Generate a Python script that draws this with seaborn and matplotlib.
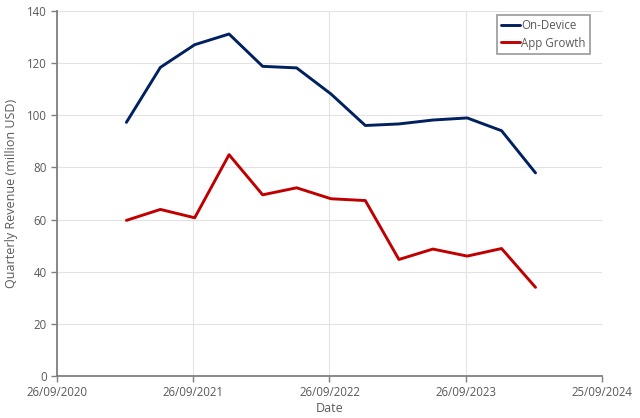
import pandas as pd
import numpy as np
import matplotlib
matplotlib.use('Agg')
import matplotlib.pyplot as plt
import matplotlib.dates as mdates
import seaborn as sns

# quarter end dates
dates = ['2021-03-31', '2021-06-30', '2021-09-30', '2021-12-31', '2022-03-31', '2022-06-30',
         '2022-09-30', '2022-12-31', '2023-03-31', '2023-06-30', '2023-09-30', '2023-12-31',
         '2024-03-31']
on_device = [97.3, 118.4, 127.1, 131.2, 118.8, 118.2, 108.2, 96.1, 96.7, 98.2, 99.0, 94.1, 77.9]
app_growth = [59.7, 63.9, 60.7, 84.9, 69.5, 72.2, 68.0, 67.3, 44.7, 48.7, 46.0, 48.9, 34.0]
tick_dates = ['2020-09-26', '2021-09-26', '2022-09-26', '2023-09-26', '2024-09-25']

# long format for seaborn
df = pd.DataFrame({
    'Date': pd.to_datetime(dates * 2),
    'Revenue': on_device + app_growth,
    'Segment': ['On-Device'] * len(dates) + ['App Growth'] * len(dates),
})

sns.set_style('white')
plt.rcParams['font.family'] = ['Open Sans', 'DejaVu Sans']

fig = plt.figure(figsize=(6.4, 4.18), dpi=100)
ax = fig.add_axes([0.089, 0.1005, 0.8516, 0.873])

sns.lineplot(data=df, x='Date', y='Revenue', hue='Segment',
             palette={'On-Device': '#002060', 'App Growth': '#C00000'},
             linewidth=2.1, ax=ax)

ticks = pd.to_datetime(tick_dates)
ax.set_xlim(ticks[0], ticks[-1])
ax.set_xticks(ticks)
ax.xaxis.set_major_formatter(mdates.DateFormatter('%d/%m/%Y'))
ax.set_ylim(0, 140)
ax.set_yticks(np.arange(0, 141, 20))

grey = '#595959'
ax.grid(True, color='#E3E3E3', linewidth=0.8)
for s in ['top', 'right']:
    ax.spines[s].set_visible(False)
for s in ['left', 'bottom']:
    ax.spines[s].set_color('#7F7F7F')
    ax.spines[s].set_linewidth(1.3)
ax.tick_params(axis='both', which='both', direction='out', length=4, width=1,
               color='#7F7F7F', labelcolor=grey, labelsize=8.3, bottom=True, left=True)

ax.set_xlabel('Date', color=grey, fontsize=9, labelpad=2)
ax.set_ylabel('Quarterly Revenue (million USD)', color=grey, fontsize=9, labelpad=6)

leg = ax.legend(loc='upper right', bbox_to_anchor=(0.978, 0.988), frameon=True, fancybox=False,
                edgecolor='#7F7F7F', fontsize=8.3, handlelength=1.7, handletextpad=0.1,
                borderpad=0.35, labelspacing=0.35, borderaxespad=0)
leg.get_frame().set_linewidth(1.2)
for t in leg.get_texts():
    t.set_color(grey)

fig.savefig('out.png', dpi=100)
